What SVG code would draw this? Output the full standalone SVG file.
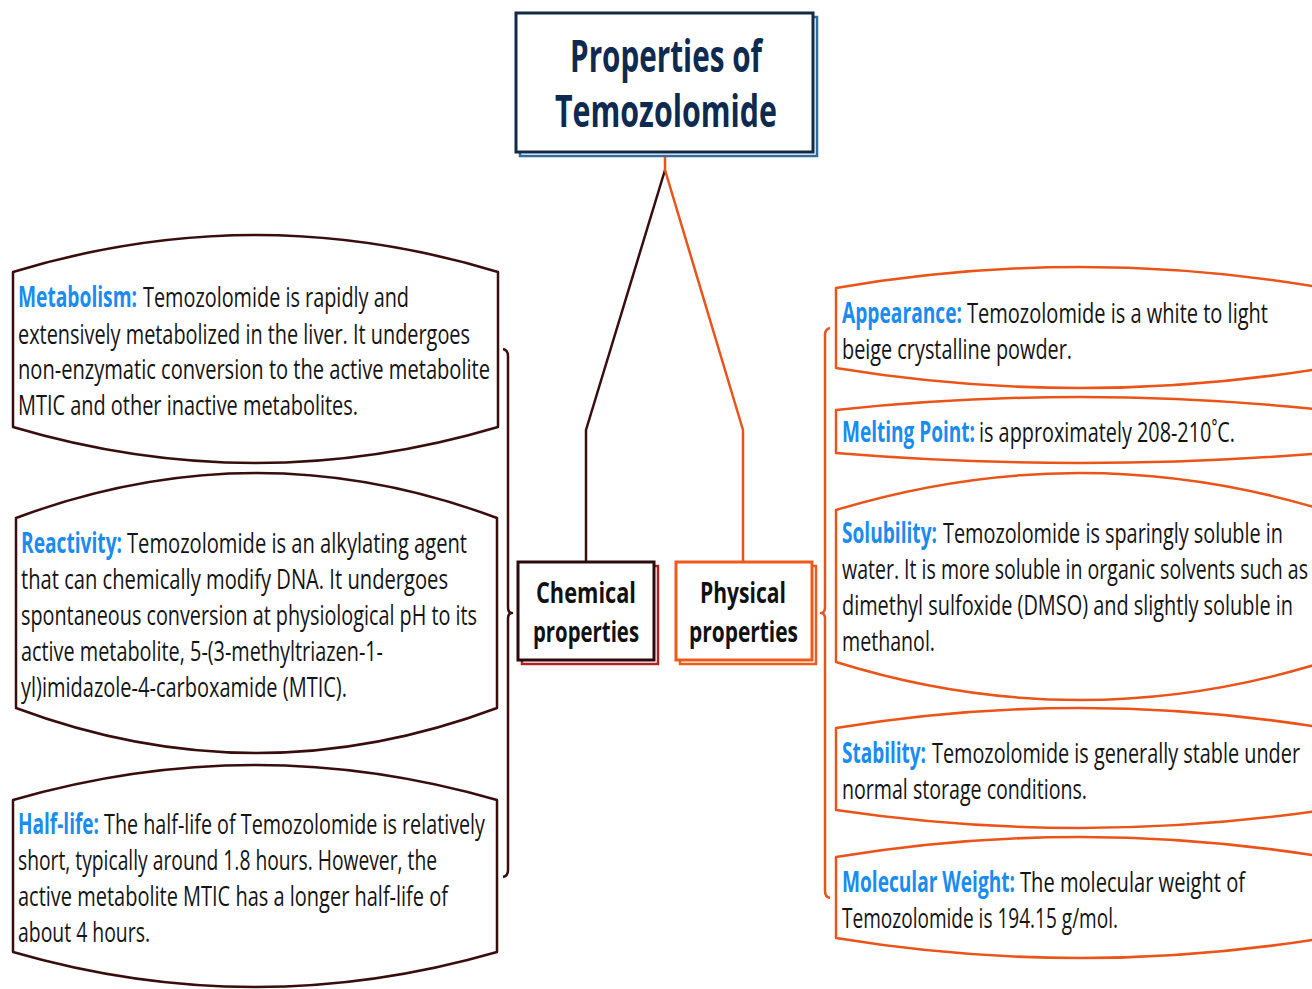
<svg xmlns="http://www.w3.org/2000/svg" width="1312" height="989" viewBox="0 0 1312 989">
<style>
.t{font-family:"Open Sans","Liberation Sans",sans-serif;font-size:28px;fill:#141414}
.lbl{font-family:"Open Sans","Liberation Sans",sans-serif;font-size:28px;font-weight:700;fill:#1a8cf0}
.title{font-family:"Open Sans","Liberation Sans",sans-serif;font-size:44px;font-weight:700;fill:#0e2a50}
.cat{font-family:"Open Sans","Liberation Sans",sans-serif;font-size:29px;font-weight:700;fill:#111}
.hexL{fill:#fff;stroke:#3a0d0d;stroke-width:2.5;stroke-linejoin:round}
.hexR{fill:#fff;stroke:#ea5418;stroke-width:2.5;stroke-linejoin:round}
.cL{fill:none;stroke:#3a0d0d;stroke-width:2.5;stroke-linejoin:round}
.cR{fill:none;stroke:#ea5418;stroke-width:2.5;stroke-linejoin:round}
</style>
<rect width="1312" height="989" fill="#fff"/>
<g id="connectors">
<path class="cL" d="M665,170 L586,430 L586,562"/>
<path class="cR" d="M665,153 L665,170 L743,430 L743,562"/>
<path class="cL" d="M503,349 Q508,350 508,356 L508,607 Q508,613 512,613 Q508,613 508,619 L508,870 Q508,876 503,877"/>
<path class="cR" d="M830,328 Q825,329 825,335 L825,607 Q825,613 821,613 Q825,613 825,619 L825,891 Q825,897 830,898"/>
</g>
<g id="title">
<rect x="520" y="17" width="297" height="139" fill="#fff" stroke="#2e6da4" stroke-width="2.5"/>
<rect x="516" y="13" width="297" height="139" fill="#fff" stroke="#132a44" stroke-width="3"/>
<text class="title" x="570" y="72" textLength="192" lengthAdjust="spacingAndGlyphs">Properties of</text>
<text class="title" x="555" y="127" textLength="222" lengthAdjust="spacingAndGlyphs">Temozolomide</text>
</g>
<g id="chemical">
<rect x="522" y="566" width="136" height="98" fill="#fff" stroke="#b22222" stroke-width="2.5"/>
<rect x="518" y="562" width="136" height="98" fill="#fff" stroke="#2a0a0a" stroke-width="3"/>
<text class="cat" x="536" y="603" textLength="100" lengthAdjust="spacingAndGlyphs">Chemical</text>
<text class="cat" x="533" y="642" textLength="106" lengthAdjust="spacingAndGlyphs">properties</text>
</g>
<g id="physical">
<rect x="680" y="566" width="136" height="98" fill="#fff" stroke="#ee5a1c" stroke-width="2.5"/>
<rect x="676" y="562" width="136" height="98" fill="#fff" stroke="#ee5a1c" stroke-width="3"/>
<text class="cat" x="700" y="603" textLength="86" lengthAdjust="spacingAndGlyphs">Physical</text>
<text class="cat" x="689" y="642" textLength="109" lengthAdjust="spacingAndGlyphs">properties</text>
</g>
<g id="metabolism">
<path class="hexL" d="M13,272 Q255.5,198 498,272 L498,427 Q255.5,499 13,427 Z"/>
<text class="lbl" x="18" y="307" textLength="119" lengthAdjust="spacingAndGlyphs">Metabolism:</text>
<text class="t" x="143" y="307" textLength="266" lengthAdjust="spacingAndGlyphs">Temozolomide is rapidly and</text>
<text class="t" x="18" y="344" textLength="452" lengthAdjust="spacingAndGlyphs">extensively metabolized in the liver. It undergoes</text>
<text class="t" x="18" y="379" textLength="472" lengthAdjust="spacingAndGlyphs">non-enzymatic conversion to the active metabolite</text>
<text class="t" x="18" y="415" textLength="340" lengthAdjust="spacingAndGlyphs">MTIC and other inactive metabolites.</text>
</g>
<g id="reactivity">
<path class="hexL" d="M16,518 Q256.5,428 497,518 L497,708 Q256.5,798 16,708 Z"/>
<text class="lbl" x="21" y="553" textLength="101" lengthAdjust="spacingAndGlyphs">Reactivity:</text>
<text class="t" x="127" y="553" textLength="340" lengthAdjust="spacingAndGlyphs">Temozolomide is an alkylating agent</text>
<text class="t" x="21" y="589" textLength="427" lengthAdjust="spacingAndGlyphs">that can chemically modify DNA. It undergoes</text>
<text class="t" x="21" y="625" textLength="456" lengthAdjust="spacingAndGlyphs">spontaneous conversion at physiological pH to its</text>
<text class="t" x="21" y="661" textLength="362" lengthAdjust="spacingAndGlyphs">active metabolite, 5-(3-methyltriazen-1-</text>
<text class="t" x="21" y="697" textLength="326" lengthAdjust="spacingAndGlyphs">yl)imidazole-4-carboxamide (MTIC).</text>
</g>
<g id="halflife">
<path class="hexL" d="M13,800 Q255,730 497,800 L497,952 Q255,1022 13,952 Z"/>
<text class="lbl" x="18" y="834" textLength="81" lengthAdjust="spacingAndGlyphs">Half-life:</text>
<text class="t" x="104" y="834" textLength="381" lengthAdjust="spacingAndGlyphs">The half-life of Temozolomide is relatively</text>
<text class="t" x="18" y="870" textLength="419" lengthAdjust="spacingAndGlyphs">short, typically around 1.8 hours. However, the</text>
<text class="t" x="18" y="906" textLength="430" lengthAdjust="spacingAndGlyphs">active metabolite MTIC has a longer half-life of</text>
<text class="t" x="18" y="942" textLength="132" lengthAdjust="spacingAndGlyphs">about 4 hours.</text>
</g>
<g id="appearance">
<path class="hexR" d="M836,288 Q1080,246 1324,288 L1324,368 Q1080,408 836,368 Z"/>
<text class="lbl" x="842" y="323" textLength="120" lengthAdjust="spacingAndGlyphs">Appearance:</text>
<text class="t" x="967" y="323" textLength="301" lengthAdjust="spacingAndGlyphs">Temozolomide is a white to light</text>
<text class="t" x="842" y="359" textLength="230" lengthAdjust="spacingAndGlyphs">beige crystalline powder.</text>
</g>
<g id="melting">
<path class="hexR" d="M836,410 Q1080,384 1324,410 L1324,453 Q1080,473 836,453 Z"/>
<text class="lbl" x="842" y="442" textLength="133" lengthAdjust="spacingAndGlyphs">Melting Point:</text>
<text class="t" x="979" y="442" textLength="256" lengthAdjust="spacingAndGlyphs">is approximately 208-210˚C.</text>
</g>
<g id="solubility">
<path class="hexR" d="M836,510 Q1080,436 1324,510 L1324,662 Q1080,738 836,662 Z"/>
<text class="lbl" x="842" y="543" textLength="95" lengthAdjust="spacingAndGlyphs">Solubility:</text>
<text class="t" x="943" y="543" textLength="340" lengthAdjust="spacingAndGlyphs">Temozolomide is sparingly soluble in</text>
<text class="t" x="842" y="579" textLength="466" lengthAdjust="spacingAndGlyphs">water. It is more soluble in organic solvents such as</text>
<text class="t" x="842" y="615" textLength="451" lengthAdjust="spacingAndGlyphs">dimethyl sulfoxide (DMSO) and slightly soluble in</text>
<text class="t" x="842" y="651" textLength="93" lengthAdjust="spacingAndGlyphs">methanol.</text>
</g>
<g id="stability">
<path class="hexR" d="M836,728 Q1080,688 1324,728 L1324,810 Q1080,846 836,810 Z"/>
<text class="lbl" x="842" y="763" textLength="84" lengthAdjust="spacingAndGlyphs">Stability:</text>
<text class="t" x="932" y="763" textLength="368" lengthAdjust="spacingAndGlyphs">Temozolomide is generally stable under</text>
<text class="t" x="842" y="799" textLength="245" lengthAdjust="spacingAndGlyphs">normal storage conditions.</text>
</g>
<g id="molecular">
<path class="hexR" d="M836,857 Q1080,817 1324,857 L1324,938 Q1080,978 836,938 Z"/>
<text class="lbl" x="842" y="892" textLength="173" lengthAdjust="spacingAndGlyphs">Molecular Weight:</text>
<text class="t" x="1020" y="892" textLength="225" lengthAdjust="spacingAndGlyphs">The molecular weight of</text>
<text class="t" x="842" y="928" textLength="276" lengthAdjust="spacingAndGlyphs">Temozolomide is 194.15 g/mol.</text>
</g>
</svg>
